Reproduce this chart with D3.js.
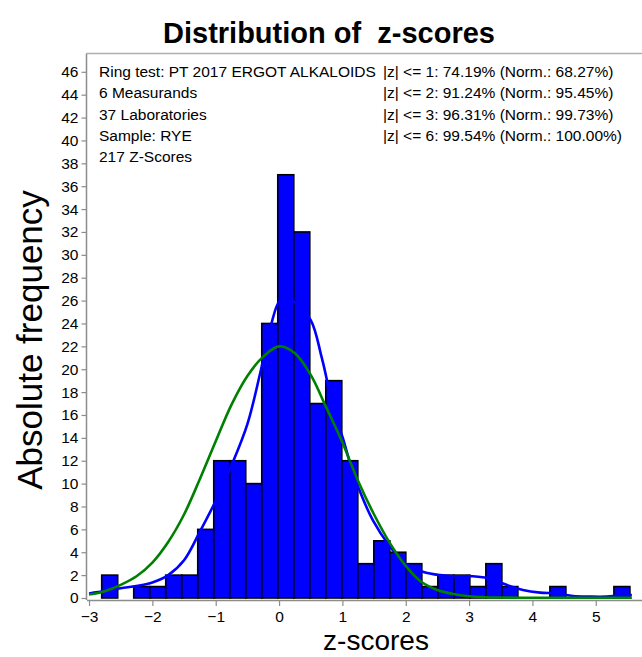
<!DOCTYPE html>
<html>
<head>
<meta charset="utf-8">
<script src="https://cdn.jsdelivr.net/npm/d3@7"></script>
<style>
  body { margin: 0; background: #fff; }
  svg text { font-family: "Liberation Sans", Arial, sans-serif; }
</style>
</head>
<body>
<svg id="chart" width="642" height="657"></svg>
<script>
// histogram: 33 equal bins starting at the lowest z-score
const binStart = -2.8;
const binWidth = 0.2527;
const binCounts = [2, 0, 1, 1, 2, 2, 6, 12, 12, 10, 24, 37, 32, 17, 19, 12, 3, 5, 4, 3, 1, 2, 2, 1, 3, 1, 0, 0, 1, 0, 0, 0, 1];

// green curve (normal distribution)
const normalZ = [-3.0, -2.75, -2.5, -2.25, -2.0, -1.75, -1.5, -1.25, -1.0, -0.75, -0.5, -0.25, 0.0, 0.25, 0.5, 0.75, 1.0, 1.25, 1.5, 1.75, 2.0, 2.25, 2.5, 2.75, 3.0, 3.25, 3.5, 4.0, 4.5, 5.0, 5.57];
const normalVals = [0.3, 0.6, 1.15, 1.9, 3.1, 4.9, 7.3, 10.4, 13.7, 16.9, 19.4, 21.1, 22.0, 21.4, 19.5, 16.6, 13.6, 10.2, 7.3, 4.8, 2.8, 1.4, 0.7, 0.35, 0.15, 0.07, 0.04, 0.02, 0.02, 0.02, 0.02];

// blue curve (kernel density)
const kernelZ = [-3.0, -2.75, -2.5, -2.25, -2.0, -1.75, -1.5, -1.25, -1.0, -0.75, -0.5, -0.3, -0.12, 0.0, 0.12, 0.25, 0.5, 0.67, 0.75, 0.85, 1.0, 1.12, 1.25, 1.48, 1.75, 2.0, 2.27, 2.54, 2.8, 3.06, 3.33, 3.59, 3.85, 4.12, 4.38, 4.64, 4.9, 5.17, 5.43, 5.57];
const kernelVals = [0.4, 0.6, 0.85, 1.05, 1.35, 2.0, 3.3, 5.8, 8.5, 11.6, 15.2, 19.6, 24.0, 25.9, 26.3, 25.8, 24.3, 21.1, 19.2, 16.4, 14.1, 11.8, 9.7, 6.8, 4.5, 3.0, 2.3, 2.0, 1.9, 1.9, 1.7, 1.15, 0.7, 0.47, 0.4, 0.17, 0.12, 0.12, 0.25, 0.25];

const xTicks = [-3, -2, -1, 0, 1, 2, 3, 4, 5];
const yTicks = d3.range(0, 47, 2);

const infoLeft = ["Ring test: PT 2017 ERGOT ALKALOIDS", "6 Measurands", "37 Laboratories", "Sample: RYE", "217 Z-Scores"];
const infoRight = ["|z| <= 1: 74.19% (Norm.: 68.27%)", "|z| <= 2: 91.24% (Norm.: 95.45%)", "|z| <= 3: 96.31% (Norm.: 99.73%)", "|z| <= 6: 99.54% (Norm.: 100.00%)"];

const svg = d3.select("#chart");
const frame = { left: 86.5, right: 642, top: 53.5, bottom: 598 };
const axisGray = "#8c8c8c";

const x = d3.scaleLinear().domain([-3.04, 5.73]).range([frame.left, frame.right]);
const y = d3.scaleLinear().domain([0, 47.6]).range([frame.bottom, frame.top]);

// frame top line
svg.append("line")
  .attr("x1", frame.left).attr("x2", frame.right)
  .attr("y1", frame.top).attr("y2", frame.top)
  .attr("stroke", "#b0b0b0").attr("stroke-width", 1.5);

// bars
const bins = binCounts.map((c, i) => ({
  x0: binStart + i * binWidth,
  x1: binStart + (i + 1) * binWidth,
  count: c,
}));

svg.append("g")
  .selectAll("rect")
  .data(bins.filter((d) => d.count > 0))
  .enter()
  .append("rect")
  .attr("x", (d) => x(d.x0))
  .attr("width", (d) => x(d.x1) - x(d.x0))
  .attr("y", (d) => y(d.count))
  .attr("height", (d) => y(0) - y(d.count))
  .attr("fill", "#0000ff")
  .attr("stroke", "#000")
  .attr("stroke-width", 1.6);

// curves
const line = d3.line()
  .x((d) => x(d[0]))
  .y((d) => y(d[1]))
  .curve(d3.curveCatmullRom);

svg.append("path")
  .datum(kernelZ.map((z, i) => [z, kernelVals[i]]))
  .attr("d", line)
  .attr("fill", "none")
  .attr("stroke", "#0000ff")
  .attr("stroke-width", 2.6);

svg.append("path")
  .datum(normalZ.map((z, i) => [z, normalVals[i]]))
  .attr("d", line)
  .attr("fill", "none")
  .attr("stroke", "#008000")
  .attr("stroke-width", 2.6);

// axes
const yAxis = svg.append("g")
  .attr("transform", `translate(${frame.left},0)`)
  .call(d3.axisLeft(y).tickValues(yTicks).tickSize(5).tickPadding(3).tickSizeOuter(0));

const xAxis = svg.append("g")
  .attr("transform", `translate(0,${frame.bottom + 2})`)
  .call(d3.axisBottom(x).tickValues(xTicks).tickSize(6).tickPadding(5).tickSizeOuter(0));

[yAxis, xAxis].forEach((g) => {
  g.select(".domain").attr("stroke", axisGray).attr("stroke-width", 1.5);
  g.selectAll(".tick line").attr("stroke", axisGray).attr("stroke-width", 1.2);
  g.selectAll(".tick text")
    .attr("fill", "#000")
    .style("font-size", "15.5px")
    .style("font-family", '"Liberation Sans", Arial, sans-serif');
});
yAxis.select(".domain").attr("d", `M0,${frame.bottom + 2}V${frame.top}`);

// info text
svg.append("g")
  .selectAll("text")
  .data(infoLeft)
  .enter()
  .append("text")
  .attr("x", 99)
  .attr("y", (d, i) => 77 + i * 21.3)
  .style("font-size", "15.5px")
  .text((d) => d);

svg.append("g")
  .selectAll("text")
  .data(infoRight)
  .enter()
  .append("text")
  .attr("x", 383)
  .attr("y", (d, i) => 77 + i * 21.3)
  .style("font-size", "15.5px")
  .text((d) => d);

// titles
svg.append("text")
  .attr("x", 329)
  .attr("y", 43)
  .attr("text-anchor", "middle")
  .style("font-size", "29px")
  .style("font-weight", "bold")
  .style("white-space", "pre")
  .text("Distribution of  z-scores");

svg.append("text")
  .attr("transform", "translate(42,340) rotate(-90)")
  .attr("text-anchor", "middle")
  .style("font-size", "35px")
  .text("Absolute frequency");

svg.append("text")
  .attr("x", 376)
  .attr("y", 650)
  .attr("text-anchor", "middle")
  .style("font-size", "28px")
  .text("z-scores");
</script>
</body>
</html>
